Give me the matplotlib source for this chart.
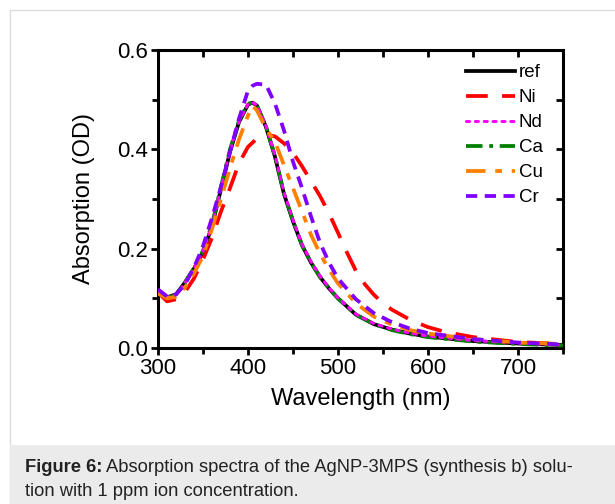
import matplotlib
matplotlib.use('Agg')
import matplotlib.pyplot as plt
from matplotlib.patches import Rectangle

plt.rcParams['font.family'] = ['Liberation Sans', 'DejaVu Sans']

# wavelengths (nm) for each spectrum
wl = [300, 310, 320, 330, 340, 350, 360, 370, 380, 390, 400, 405, 410, 420, 430,
      440, 450, 460, 470, 480, 490, 500, 520, 540, 560, 580, 600, 650, 700, 750]
ref = [0.110, 0.102, 0.108, 0.132, 0.160, 0.193, 0.245, 0.320, 0.395, 0.455, 0.490, 0.494,
       0.488, 0.445, 0.385, 0.310, 0.255, 0.207, 0.172, 0.143, 0.120, 0.100, 0.067, 0.048,
       0.037, 0.029, 0.023, 0.014, 0.009, 0.006]
nd = [0.111, 0.102, 0.107, 0.131, 0.161, 0.195, 0.247, 0.322, 0.397, 0.456, 0.491, 0.494,
      0.489, 0.447, 0.388, 0.313, 0.258, 0.209, 0.174, 0.145, 0.121, 0.101, 0.068, 0.049,
      0.038, 0.030, 0.024, 0.015, 0.010, 0.006]
ca = [0.110, 0.101, 0.107, 0.132, 0.161, 0.196, 0.249, 0.325, 0.400, 0.458, 0.492, 0.494,
      0.488, 0.446, 0.386, 0.311, 0.256, 0.207, 0.172, 0.143, 0.120, 0.100, 0.067, 0.048,
      0.036, 0.028, 0.022, 0.013, 0.008, 0.005]
cu = [0.110, 0.100, 0.103, 0.122, 0.150, 0.185, 0.240, 0.300, 0.362, 0.420, 0.468, 0.488,
      0.478, 0.442, 0.415, 0.368, 0.322, 0.275, 0.228, 0.190, 0.158, 0.130, 0.090, 0.063,
      0.047, 0.036, 0.029, 0.018, 0.011, 0.008]
cr = [0.118, 0.104, 0.108, 0.128, 0.162, 0.205, 0.262, 0.325, 0.395, 0.462, 0.518, 0.528,
      0.532, 0.530, 0.492, 0.438, 0.375, 0.322, 0.265, 0.212, 0.172, 0.140, 0.098, 0.070,
      0.052, 0.039, 0.030, 0.018, 0.011, 0.007]
# Ni was sampled on its own grid
wl_ni = [300, 310, 320, 330, 340, 350, 360, 370, 380, 390, 400, 410, 420, 430, 440, 450,
         460, 470, 480, 490, 500, 510, 520, 530, 540, 550, 560, 580, 600, 620, 650, 700, 750]
ni = [0.112, 0.094, 0.098, 0.113, 0.140, 0.178, 0.222, 0.275, 0.322, 0.372, 0.405, 0.422,
      0.430, 0.426, 0.412, 0.393, 0.366, 0.336, 0.306, 0.271, 0.232, 0.192, 0.155, 0.128,
      0.107, 0.090, 0.077, 0.057, 0.042, 0.032, 0.022, 0.012, 0.008]

x_ticks = [300, 400, 500, 600, 700]
x_minor = [350, 450, 550, 650, 750]
y_ticks = [0.0, 0.2, 0.4, 0.6]
y_minor = [0.1, 0.3, 0.5]

fig = plt.figure(figsize=(6.15, 5.04), dpi=100)
W, H = 615, 504

# page frame + caption band (behind the axes)
fig.patches.append(Rectangle((9.5 / W, 0), 1, 1 - 9.5 / H, transform=fig.transFigure,
                             facecolor='white', edgecolor='#dcdcdc', lw=1, zorder=-2))
fig.patches.append(Rectangle((10 / W, 0), 1, 59 / H, transform=fig.transFigure,
                             facecolor='#ebebeb', edgecolor='none', zorder=-1))

ax = fig.add_axes([158 / W, 1 - 348 / H, (563 - 158) / W, (348 - 50) / H])

lw = 2.7
ax.plot(wl, ref, color='black', lw=lw, label='ref', zorder=2)
ax.plot(wl_ni, ni, color='#ff0000', lw=lw, dashes=(5.8, 3.8), label='Ni', zorder=3)
ax.plot(wl, nd, color='#ff00ff', lw=2.2, dashes=(1.0, 1.9), dash_capstyle='round',
        label='Nd', zorder=5)
ax.plot(wl, ca, color='#008000', lw=lw, dashes=(4.4, 1.8, 1.0, 1.8), label='Ca', zorder=4)
ax.plot(wl, cu, color='#ff8000', lw=lw, dashes=(5.2, 2.6, 1.8, 2.6), label='Cu', zorder=6)
ax.plot(wl, cr, color='#8000ff', lw=lw, dashes=(3.0, 2.0), label='Cr', zorder=7)

ax.set_xlim(300, 750)
ax.set_ylim(0, 0.6)
ax.set_xticks(x_ticks)
ax.set_yticks(y_ticks)
ax.set_xticks(x_minor, minor=True)
ax.set_yticks(y_minor, minor=True)
ax.set_yticklabels([f'{v:.1f}' for v in y_ticks])

for s in ax.spines.values():
    s.set_linewidth(2.2)
ax.tick_params(which='both', direction='out', width=2, labelsize=16, pad=2,
               top=False, right=False)
ax.tick_params(which='major', length=5)
ax.tick_params(which='minor', length=4)

# inward mirror ticks on top/right
sec = ax.secondary_xaxis('top')
sec.set_xticks(x_ticks)
sec.set_xticks(x_minor, minor=True)
sec.tick_params(which='both', direction='in', width=2, length=5, labeltop=False)
sec.spines['top'].set_visible(False)
secy = ax.secondary_yaxis('right')
secy.set_yticks(y_ticks)
secy.set_yticks(y_minor, minor=True)
secy.tick_params(which='both', direction='in', width=2, length=5, labelright=False)
secy.spines['right'].set_visible(False)

ax.set_xlabel('Wavelength (nm)', fontsize=17, labelpad=7)
ax.set_ylabel('Absorption (OD)', fontsize=17, labelpad=16)

ax.legend(loc='upper left', bbox_to_anchor=(466 / W, 1 - 64 / H),
          bbox_transform=fig.transFigure, frameon=False, fontsize=13.5,
          handlelength=2.6, handletextpad=0.2, labelspacing=0.42,
          borderpad=0, borderaxespad=0)

# caption with bold lead-in
cap_fs = 13.2
cap_col = '#222222'
r = fig.canvas.get_renderer()
t = fig.text(25 / W, 1 - 468 / H, 'Figure 6:', fontsize=cap_fs, fontweight='bold',
             va='center', color=cap_col)
bb = t.get_window_extent(renderer=r)
fig.text((bb.x1 + 4) / W, 1 - 468 / H,
         'Absorption spectra of the AgNP-3MPS (synthesis b) solu-',
         fontsize=cap_fs, va='center', color=cap_col)
fig.text(25 / W, 1 - 492 / H, 'tion with 1 ppm ion concentration.',
         fontsize=cap_fs, va='center', color=cap_col)

fig.savefig('out.png', dpi=100)
plt.close(fig)
